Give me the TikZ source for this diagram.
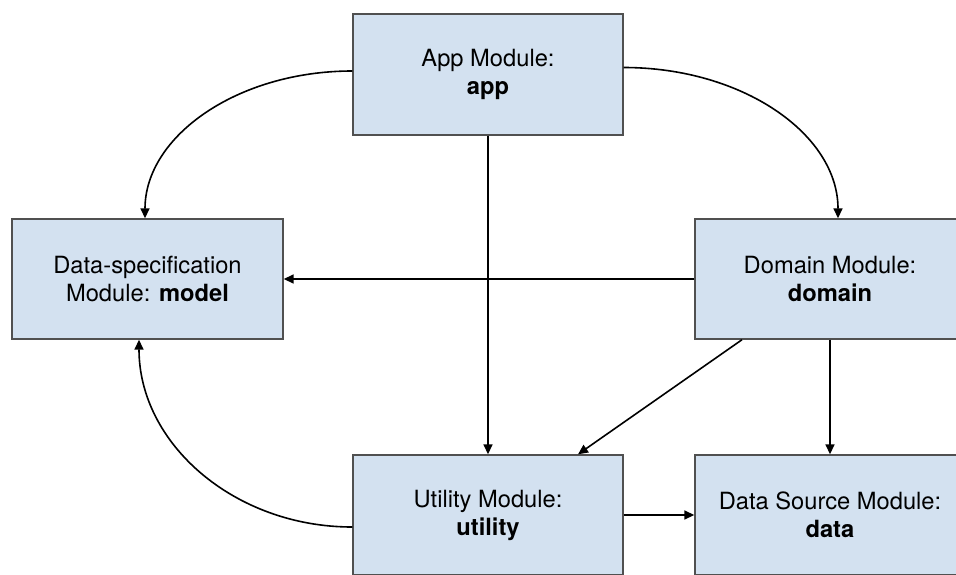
\documentclass[tikz,border=0pt]{standalone}
\usepackage{fontspec}
\setmainfont{TeX Gyre Heros}
\usetikzlibrary{arrows.meta}
\definecolor{boxfill}{RGB}{211,225,240}
\definecolor{boxline}{RGB}{80,80,80}
\tikzset{
  module/.style={rectangle, draw=boxline, fill=boxfill, line width=1.4pt,
    minimum width=270pt, minimum height=120pt, inner sep=0pt,
    align=center, font=\fontsize{23.7pt}{28pt}\selectfont},
  dep/.style={line width=1.6pt, -{Triangle[length=10pt,width=9pt]}}
}
\begin{document}
\begin{tikzpicture}[x=1pt, y=-1pt]
  \useasboundingbox (0,0) rectangle (956,574);
  \node[module, minimum height=121pt] (app) at (488,74.5) {App Module:\\\textbf{app}};
  \node[module, minimum width=271pt] (model) at (147.5,279) {Data-specification\\Module: \textbf{model}};
  \node[module] (domain) at (830,279) {Domain Module:\\\textbf{domain}};
  \node[module] (utility) at (488,515) {Utility Module:\\\textbf{utility}};
  \node[module] (source) at (830,515) {Data Source Module:\\\textbf{data}};

  \draw[dep] ([yshift=3.5pt]app.west) .. controls +(-115,0) and +(0,-82) .. ([xshift=-2.5pt]model.north);
  \draw[dep] ([yshift=7pt]app.east) .. controls +(119,0) and +(0,-84) .. ([xshift=8pt]domain.north);
  \draw[dep] (app.south) -- (utility.north);
  \draw[dep] (domain.west) -- (model.east);
  \draw[dep] ([xshift=-88pt]domain.south) -- ([xshift=90pt]utility.north);
  \draw[dep] (domain.south) -- (source.north);
  \draw[dep] (utility.east) -- (source.west);
  \draw[dep] ([yshift=-12pt]utility.west) .. controls +(-118,0) and +(0,104) .. ([xshift=-8.5pt]model.south);
\end{tikzpicture}
\end{document}
